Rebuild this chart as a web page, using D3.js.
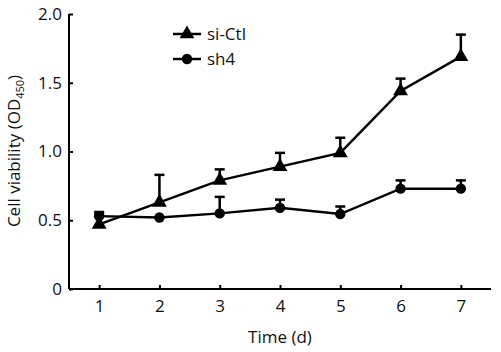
<!DOCTYPE html>
<html><head><meta charset="utf-8">
<script src="https://cdn.jsdelivr.net/npm/d3@7"></script>
<style>body{margin:0;background:#fff}svg{display:block}text{font-family:"Open Sans",sans-serif;fill:#111}</style>
</head><body><svg id="c" width="501" height="352"></svg>
<script>
const days = [1,2,3,4,5,6,7];
const siCtl = [0.47,0.63,0.79,0.89,0.99,1.44,1.69];
const siCtlErr = [0.08,0.20,0.08,0.10,0.11,0.09,0.16];
const sh4 = [0.53,0.52,0.55,0.59,0.545,0.73,0.73];
const sh4Err = [0.03,0.0,0.12,0.06,0.055,0.06,0.06];
const yTicks = [0,0.5,1.0,1.5,2.0];
const yTickLabels = ["0","0.5","1.0","1.5","2.0"];
const seriesNames = ["si-Ctl","sh4"];

const svg = d3.select("#c");
const x = d3.scaleLinear().domain([0.5,7.5]).range([69,491]);
const y = d3.scaleLinear().domain([0,2]).range([289,14]);

const xAxis = d3.axisBottom(x).tickValues(days).tickSize(-4).tickPadding(11).tickFormat(d3.format("d"));
const gx = svg.append("g").attr("transform","translate(0,289)").call(xAxis);
const yAxis = d3.axisLeft(y).tickValues(yTicks).tickSize(-4).tickPadding(7).tickFormat((d,i)=>yTickLabels[i]);
const gy = svg.append("g").attr("transform","translate(69,0)").call(yAxis);
[gx,gy].forEach(g=>{
  g.attr("font-size",null).attr("font-family",null);
  g.select(".domain").attr("stroke","#000").attr("stroke-width",2);
  g.selectAll(".tick line").attr("stroke","#000").attr("stroke-width",2);
  g.selectAll(".tick text").style("font-size","17px").attr("fill","#111");
});
gx.select(".domain").attr("d","M69,0H491");
gy.select(".domain").attr("d","M0,289V14");

svg.append("text").attr("x",280).attr("y",343).attr("text-anchor","middle").style("font-size","17px").text("Time (d)");
const yl = svg.append("text").attr("transform","translate(20,151) rotate(-90)").attr("text-anchor","middle").style("font-size","17px");
yl.append("tspan").text("Cell viability (OD");
yl.append("tspan").attr("dy",4).style("font-size","11px").text("450");
yl.append("tspan").attr("dy",-4).text(")");

const line = d3.line().x((d,i)=>x(days[i])).y(d=>y(d));
const tri = d3.symbol().type(d3.symbolTriangle).size(95);
const circ = d3.symbol().type(d3.symbolCircle).size(85);

function drawSeries(vals, errs, sym){
  const g = svg.append("g");
  g.append("path").datum(vals).attr("d",line).attr("fill","none").attr("stroke","#000").attr("stroke-width",2.5);
  days.forEach((d,i)=>{
    if(errs[i]>0){
      g.append("line").attr("x1",x(d)).attr("x2",x(d)).attr("y1",y(vals[i])).attr("y2",y(vals[i]+errs[i])).attr("stroke","#000").attr("stroke-width",2.5);
      g.append("line").attr("x1",x(d)-5).attr("x2",x(d)+5).attr("y1",y(vals[i]+errs[i])).attr("y2",y(vals[i]+errs[i])).attr("stroke","#000").attr("stroke-width",2.5);
    }
    g.append("path").attr("d",sym()).attr("transform",`translate(${x(d)},${y(vals[i])})`).attr("fill","#000");
  });
}
drawSeries(sh4, sh4Err, circ);
drawSeries(siCtl, siCtlErr, tri);

// legend
const leg = [[seriesNames[0],tri,34],[seriesNames[1],circ,59]];
leg.forEach(([name,sym,ly])=>{
  svg.append("line").attr("x1",173).attr("x2",201).attr("y1",ly).attr("y2",ly).attr("stroke","#000").attr("stroke-width",2.5);
  svg.append("path").attr("d",sym()).attr("transform",`translate(187,${ly})`).attr("fill","#000");
  svg.append("text").attr("x",207).attr("y",ly+6).style("font-size","17px").text(name);
});
</script></body></html>
